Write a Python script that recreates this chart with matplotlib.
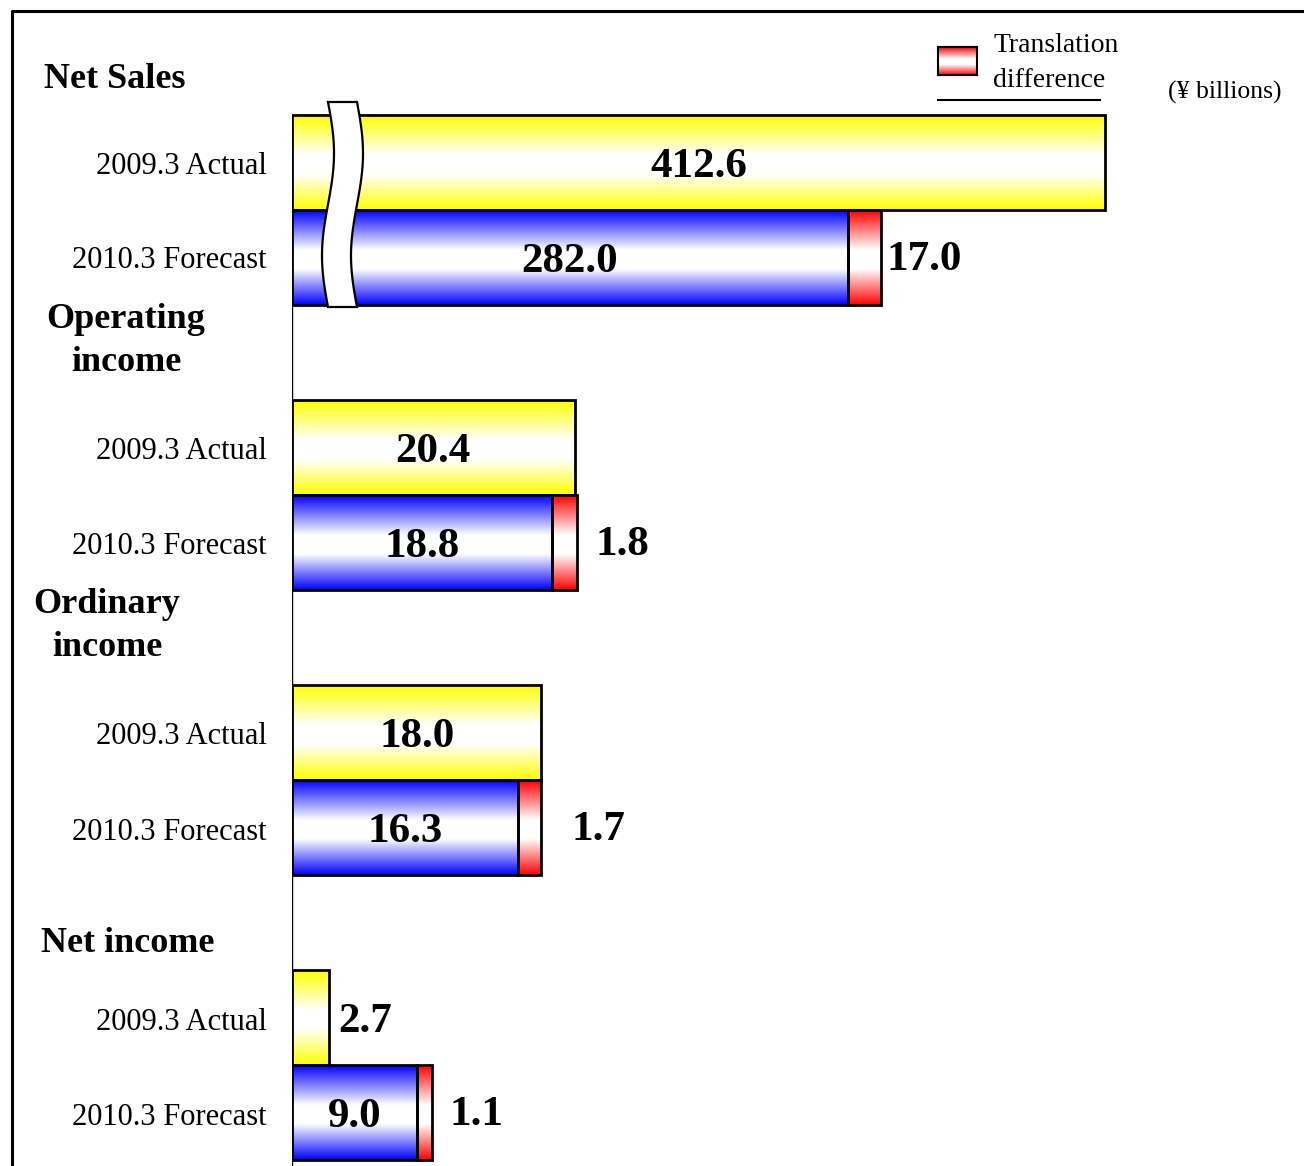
import numpy as np
import matplotlib
matplotlib.use("Agg")
import matplotlib.pyplot as plt
from matplotlib.colors import LinearSegmentedColormap
from matplotlib.patches import Polygon
from matplotlib.lines import Line2D

plt.rcParams['font.family'] = ['Liberation Serif', 'DejaVu Serif']

# ---- data (¥ billions) ----
sections = ["Net Sales", "Operating\nincome", "Ordinary\nincome", "Net income"]
periods = ["2009.3 Actual", "2010.3 Forecast"]
actual = [412.6, 20.4, 18.0, 2.7]
forecast = [282.0, 18.8, 16.3, 9.0]
translation = [17.0, 1.8, 1.7, 1.1]

W, H = 1304, 1166
fig = plt.figure(figsize=(W / 100, H / 100), dpi=100)


def fx(x):
    return x / W


def fy(y):
    return 1 - y / H


# two overlaid axes: one for Net Sales (own scale), one for the income items
AX_LEFT = 292
pos = [fx(AX_LEFT), 0.0, 1 - fx(AX_LEFT), 1.0]
ax = fig.add_axes(pos)
ax_s = fig.add_axes(pos)
ax_s.patch.set_visible(False)

PX_SMALL = 13.85   # pixels per ¥1bn for income items
PX_SALES = 1.970   # pixels per ¥1bn for net sales
ax_w_px = W - AX_LEFT
YTOP, YBOT = -1.711, 10.563

for a, scale in ((ax, PX_SMALL), (ax_s, PX_SALES)):
    a.set_xlim(0, ax_w_px / scale)
    a.set_ylim(YBOT, YTOP)
    a.axis('off')


def grad_cmap(c):
    return LinearSegmentedColormap.from_list(
        "g", [(0, c), (0.42, "white"), (0.62, "white"), (1, c)])


cm_yellow = grad_cmap("#FFFF00")
cm_blue = grad_cmap("#0000FF")
cm_red = grad_cmap("#FF0000")
grad = np.linspace(0, 1, 256).reshape(-1, 1)


def gradient_bar(a, y, left, width, cmap):
    bars = a.barh([y], [width], left=[left], height=1.0, facecolor='none',
                  edgecolor='black', linewidth=2, zorder=3)
    im = a.imshow(grad, cmap=cmap, extent=(left, left + width, y + 0.5, y - 0.5),
                  aspect='auto', zorder=2, interpolation='bilinear')
    im.set_clip_path(bars[0])
    return bars[0]


value_font = dict(fontsize=31, fontweight='bold', color='black')
trans_offsets = [5, 18, 30, 18]

for g in range(len(sections)):
    a = ax_s if g == 0 else ax
    scale = PX_SALES if g == 0 else PX_SMALL
    ya, yf = 3 * g, 3 * g + 1

    gradient_bar(a, ya, 0, actual[g], cm_yellow)
    gradient_bar(a, yf, 0, forecast[g], cm_blue)
    gradient_bar(a, yf, forecast[g], translation[g], cm_red)

    # value labels
    if actual[g] * scale > 80:
        a.text(actual[g] / 2, ya, f"{actual[g]:.1f}", ha='center',
               va='center_baseline', zorder=5, **value_font)
    else:
        a.annotate(f"{actual[g]:.1f}", (actual[g], ya), xytext=(9, 0),
                   textcoords='offset pixels', ha='left',
                   va='center_baseline', **value_font)
    a.text(forecast[g] / 2, yf, f"{forecast[g]:.1f}", ha='center',
           va='center_baseline', zorder=5, **value_font)
    a.annotate(f"{translation[g]:.1f}", (forecast[g] + translation[g], yf),
               xytext=(trans_offsets[g], 2), textcoords='offset pixels',
               ha='left', va='center_baseline', **value_font)

# vertical base line
ax.plot([0, 0], [-0.5, YBOT], color='black', lw=1, zorder=4)

# period labels
for g in range(len(sections)):
    for k, lab in enumerate(periods):
        yc = 162.5 + 285.5 * g + 95 * k
        fig.text(fx(267), fy(yc), lab, ha='right', va='center_baseline',
                 fontsize=22)

# section headings
heading_pos = [(115, 80), (126, 341), (107, 626), (128, 943)]
for name, (hx, hy) in zip(sections, heading_pos):
    fig.text(fx(hx), fy(hy), name, ha='center', va='center',
             multialignment='center', fontsize=26, fontweight='bold',
             linespacing=1.38)

# break mark across the Net Sales bars
t = np.linspace(0, 1, 60)
yy = 102 + t * 205
xl = 328 + 6 * np.sin(2 * np.pi * t)
xr = xl + 29
poly_pts = np.vstack([np.column_stack([fx(xl), fy(yy)]),
                      np.column_stack([fx(xr[::-1]), fy(yy[::-1])])])
ax_s.add_patch(Polygon(poly_pts, closed=True, facecolor='white',
                       edgecolor='black', lw=1.6, transform=fig.transFigure,
                       clip_on=False, zorder=10))

# legend
leg_ax = fig.add_axes([fx(938), fy(75), fx(977) - fx(938), fy(47) - fy(75)])
leg_ax.imshow(grad, cmap=cm_red, extent=(0, 1, 0, 1), aspect='auto')
leg_ax.set_xticks([])
leg_ax.set_yticks([])
for sp in leg_ax.spines.values():
    sp.set_linewidth(1.5)
fig.text(fx(993), fy(63), "Translation\ndifference", ha='left', va='center',
         fontsize=20, linespacing=1.5)
fig.add_artist(Line2D([fx(938), fx(1100)], [fy(100), fy(100)], color='black',
                      lw=1.5, transform=fig.transFigure))
fig.text(fx(1168), fy(90), "(¥ billions)", ha='left', va='center_baseline',
         fontsize=18.5)

# outer frame
fig.add_artist(Line2D([fx(12), fx(12), 1.0], [0.0, fy(11), fy(11)],
                      color='black', lw=2.2, transform=fig.transFigure))

fig.savefig("out.png", dpi=100)
